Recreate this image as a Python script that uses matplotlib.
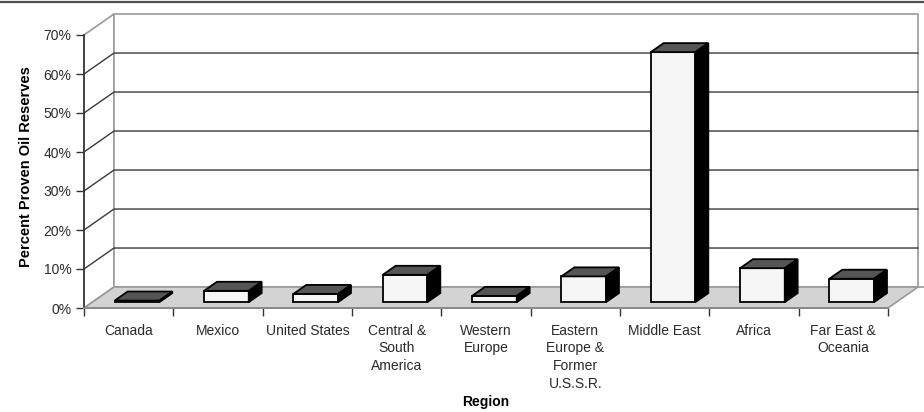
import matplotlib.pyplot as plt
from matplotlib.patches import Polygon
from matplotlib.lines import Line2D

plt.rcParams['font.family'] = ['Liberation Sans', 'DejaVu Sans']

regions = ['Canada', 'Mexico', 'United States', 'Central &\nSouth\nAmerica',
           'Western\nEurope', 'Eastern\nEurope &\nFormer\nU.S.S.R.',
           'Middle East', 'Africa', 'Far East &\nOceania']
shares = [0.4, 2.9, 2.1, 7.0, 1.6, 6.6, 64.1, 8.7, 6.0]  # percent of proven reserves
yticks = [0, 10, 20, 30, 40, 50, 60, 70]

# oblique depth of the 3-D box, in data units (categories / percent)
DX = 0.336
DY = 5.38
f0, f1 = 0.28, 0.71   # front / back of the columns as share of the depth

fig = plt.figure(figsize=(9.24, 4.12), dpi=100)
ax = fig.add_axes([84/924, 104/412, 804/924, 273/412])
ax.set_xlim(0, len(regions))
ax.set_ylim(0, 70)
ax.patch.set_facecolor('none')

n = len(regions)
ymax = yticks[-1]

# walls and floor
left_wall = Polygon([(0, 0), (0, ymax), (DX, ymax + DY), (DX, DY)],
                    closed=True, facecolor='white', edgecolor='#999999', lw=1.2,
                    clip_on=False, zorder=0)
back_wall = Polygon([(DX, DY), (DX, ymax + DY), (n + DX, ymax + DY), (n + DX, DY)],
                    closed=True, facecolor='white', edgecolor='#999999', lw=1.2,
                    clip_on=False, zorder=0)
floor = Polygon([(0, 0), (n, 0), (n + DX, DY), (DX, DY)], closed=True,
                facecolor='#d3d3d3', edgecolor='#999999', lw=1.2,
                clip_on=False, zorder=1)
for p in (left_wall, back_wall, floor):
    ax.add_patch(p)

# gridlines on side and back walls
for v in yticks[1:-1]:
    ax.plot([0, DX, n + DX], [v, v + DY, v + DY], color='#3a3a3a', lw=1,
            clip_on=False, zorder=0.5)
ax.plot([n + DX, n + DX + 0.08], [DY, DY], color='#999999', lw=1.2, clip_on=False)

# 3-D columns
for i, v in enumerate(shares):
    xl = i + 0.25 + f0 * DX
    xr = xl + 0.5
    yb = f0 * DY
    yt = yb + v
    ddx = (f1 - f0) * DX
    ddy = (f1 - f0) * DY
    front = Polygon([(xl, yb), (xr, yb), (xr, yt), (xl, yt)], closed=True,
                    facecolor='#f5f5f5', edgecolor='black', lw=1.3,
                    clip_on=False, zorder=3)
    top = Polygon([(xl, yt), (xr, yt), (xr + ddx, yt + ddy), (xl + ddx, yt + ddy)],
                  closed=True, facecolor='#555555', edgecolor='black', lw=1.3,
                  clip_on=False, zorder=3)
    side = Polygon([(xr, yb), (xr, yt), (xr + ddx, yt + ddy), (xr + ddx, yb + ddy)],
                   closed=True, facecolor='black', edgecolor='black', lw=1.3,
                   clip_on=False, zorder=3)
    for p in (front, top, side):
        ax.add_patch(p)

# axes
for s in ('top', 'right'):
    ax.spines[s].set_visible(False)
ax.spines['left'].set_color('#333333')
ax.spines['left'].set_linewidth(1.2)
ax.spines['bottom'].set_color('#8a8a8a')
ax.spines['bottom'].set_linewidth(1.4)
ax.spines['left'].set_zorder(4)
ax.spines['bottom'].set_zorder(4)

ax.set_yticks(yticks)
ax.set_yticklabels([f'{t}%' for t in yticks])
ax.tick_params(axis='y', direction='out', length=6, width=1, color='#333333',
               labelsize=10, labelcolor='#2a2a2a', pad=3)

ax.set_xticks(range(n + 1))
ax.set_xticklabels([])
ax.set_xticks([i + 0.5 for i in range(n)], minor=True)
ax.set_xticklabels(regions, minor=True, linespacing=1.32)
ax.tick_params(axis='x', which='major', direction='out', length=6, width=1,
               color='#333333')
ax.tick_params(axis='x', which='minor', length=0, labelsize=10,
               labelcolor='#2a2a2a', pad=11.5)

fig.text(26/924, 1 - 167/412, 'Percent Proven Oil Reserves', rotation=90,
         ha='center', va='center', fontsize=10.5, fontweight='bold')
fig.text(486/924, 1 - 402/412, 'Region', ha='center', va='center',
         fontsize=10, fontweight='bold')

# frame line along the top edge
fig.add_artist(Line2D([0, 1], [1 - 1.5/412, 1 - 1.5/412], transform=fig.transFigure,
                      color='#505050', lw=1.6))

fig.savefig('out.png', dpi=100)
